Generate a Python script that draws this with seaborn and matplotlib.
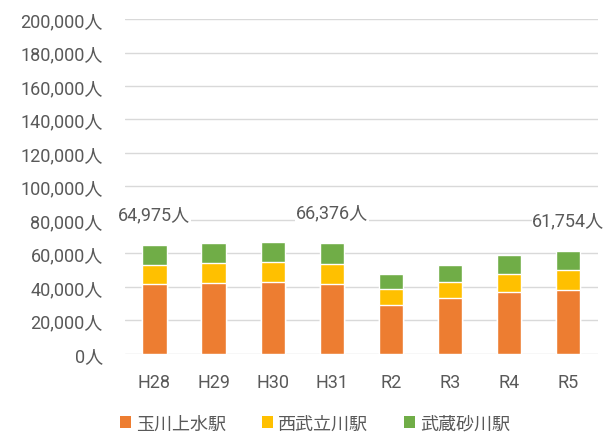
import pandas as pd
import matplotlib
matplotlib.use("Agg")
import matplotlib.pyplot as plt
import seaborn as sns
from matplotlib.patches import Patch
from matplotlib.ticker import FuncFormatter

# --- data ---
years = ['H28', 'H29', 'H30', 'H31', 'R2', 'R3', 'R4', 'R5']
tamagawa = [42000, 42100, 42800, 42000, 29300, 33200, 37200, 38400]   # 玉川上水駅
seibu = [11200, 12000, 11900, 12000, 9300, 9800, 10700, 11600]        # 西武立川駅
musashi = [11775, 12000, 12300, 12376, 9200, 10100, 11400, 11754]     # 武蔵砂川駅
label_years = ['H28', 'H31', 'R5']

stations = ['玉川上水駅', '西武立川駅', '武蔵砂川駅']
colors = ['#ED7D31', '#FFC000', '#70AD47']

df = pd.DataFrame({'年度': years, 'a': tamagawa, 'b': seibu, 'c': musashi})
df['ab'] = df['a'] + df['b']
df['total'] = df['ab'] + df['c']

sns.set_style('white')
plt.rcParams['font.family'] = ['Roboto', 'Noto Sans CJK JP', 'DejaVu Sans']

fig, ax = plt.subplots(figsize=(6.12, 4.35), dpi=100)
fig.subplots_adjust(left=0.204, right=0.977, top=0.954, bottom=0.184)

# stacked bars: draw cumulative heights back to front
sns.barplot(data=df, x='年度', y='total', color=colors[2], width=0.41, saturation=1, ax=ax, zorder=2)
sns.barplot(data=df, x='年度', y='ab', color=colors[1], width=0.41, saturation=1, ax=ax, zorder=3)
sns.barplot(data=df, x='年度', y='a', color=colors[0], width=0.41, saturation=1, ax=ax, zorder=4)

ax.set_ylim(0, 200000)
ax.set_yticks(range(0, 200001, 20000))
ax.yaxis.set_major_formatter(FuncFormatter(lambda v, p: f'{int(v):,}人'))
ax.grid(axis='y', color='#D9D9D9', linewidth=1, zorder=0)
ax.set_axisbelow(True)
ax.set_xlabel('')
ax.set_ylabel('')
for s in ax.spines.values():
    s.set_visible(False)
ax.tick_params(axis='both', length=0, labelsize=13, colors='#595959')
ax.tick_params(axis='y', pad=16)
ax.tick_params(axis='x', pad=14)
ax.set_xlim(-0.5, len(years) - 0.5)

# total labels
for i, row in df.iterrows():
    if row['年度'] in label_years:
        ax.annotate(f"{int(row['total']):,}人", (i, row['total']), xytext=(0, 22),
                    textcoords='offset points', ha='center', va='center', fontsize=13,
                    color='#595959', zorder=6,
                    bbox=dict(facecolor='white', edgecolor='none', pad=0.5))

handles = [Patch(facecolor=c, edgecolor='none') for c in colors]
fig.legend(handles, stations, loc='center', bbox_to_anchor=(0.515, 0.024), ncol=3,
           frameon=False, fontsize=13, handlelength=0.6, handleheight=0.6,
           handletextpad=0.3, columnspacing=2.0, labelcolor='#595959')

fig.savefig('out.png', dpi=100)
